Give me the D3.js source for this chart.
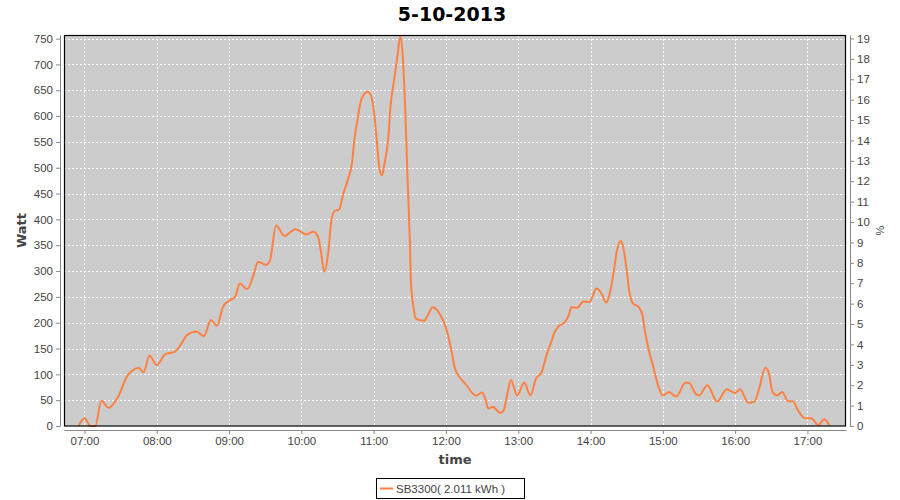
<!DOCTYPE html>
<html>
<head>
<meta charset="utf-8">
<script src="https://cdn.jsdelivr.net/npm/d3@7"></script>
<style>
  body { margin: 0; background: #fff; }
  text { font-family: "Liberation Sans", "DejaVu Sans", sans-serif; }
</style>
</head>
<body>
<script>
  // chart data
  const title = '5-10-2013';
  const seriesName = 'SB3300( 2.011 kWh )';
  const times = ['06:55','07:00','07:05','07:09','07:14','07:20','07:28','07:35','07:40','07:45','07:49','07:54',
    '08:00','08:07','08:15','08:20','08:25','08:33','08:39','08:45','08:50','08:55',
    '09:01','09:05','09:09','09:15','09:20','09:24','09:31','09:34','09:39','09:46','09:55',
    '10:04','10:10','10:14','10:16','10:19','10:22','10:25','10:28','10:31','10:35','10:39','10:42','10:44','10:47','10:50','10:55','10:58',
    '11:01','11:03','11:05','11:07','11:09','11:12','11:14','11:17','11:20','11:22','11:24','11:26','11:28','11:30','11:31','11:33','11:35','11:38','11:42','11:45','11:49','11:52','11:56','11:59',
    '12:02','12:05','12:07','12:10','12:14','12:18','12:21','12:25','12:30','12:33','12:35','12:39','12:45','12:48','12:51','12:54','12:59',
    '13:05','13:10','13:15','13:19','13:24','13:27','13:30','13:34','13:39','13:42','13:44','13:49','13:54','13:59',
    '14:05','14:09','14:13','14:16','14:19','14:22','14:25','14:27','14:30','14:32','14:35','14:40','14:43','14:45','14:48','14:52','14:56',
    '15:00','15:05','15:11','15:19','15:22','15:27','15:30','15:37','15:45','15:53',
    '16:00','16:04','16:11','16:16','16:20','16:25','16:28','16:31','16:35','16:39','16:44','16:48','16:52','16:58',
    '17:03','17:09','17:14','17:18'];
  const watts = [0,15,0,0,49,35,57,95,108,113,104,136,
    118,139,144,158,176,183,174,205,194,231,
    244,250,276,265,290,318,312,321,388,368,381,
    371,376,365,341,299,330,399,417,418,451,480,509,554,599,634,647,638,
    593,541,496,485,509,554,619,670,721,754,720,625,489,360,276,231,208,205,204,215,230,226,212,197,
    173,141,115,99,87,76,66,59,65,50,34,37,25,31,63,89,59,
    84,59,93,102,141,160,181,194,202,215,230,229,241,240,
    266,257,239,257,295,341,358,347,302,263,238,230,215,186,150,115,79,
    59,66,57,84,83,63,59,79,47,71,
    64,71,45,47,73,113,102,66,59,66,48,48,31,15,
    15,2,13,2];
  const hourTicks = ['07:00','08:00','09:00','10:00','11:00','12:00','13:00','14:00','15:00','16:00','17:00'];
  const wattTicks = [0,50,100,150,200,250,300,350,400,450,500,550,600,650,700,750];
  const pctTicks = d3.range(0, 20);

  const W = 900, H = 500;
  const margin = { top: 35, right: 54, bottom: 74, left: 64 };
  const pw = W - margin.left - margin.right;
  const ph = H - margin.top - margin.bottom;

  const parse = d3.timeParse('%H:%M');
  const data = times.map((t, i) => ({ t: parse(t), w: watts[i] }));

  const x = d3.scaleTime().domain([parse('06:43'), parse('17:32')]).range([0, pw]);
  const y = d3.scaleLinear().domain([0, 757]).range([ph, 0]);
  const y2 = d3.scaleLinear().domain([0, 19.17]).range([ph, 0]);

  const svg = d3.select('body').append('svg').attr('width', W).attr('height', H);

  svg.append('text').attr('x', W / 2 + 2).attr('y', 21).attr('text-anchor', 'middle')
    .style('font-family', '"DejaVu Sans", sans-serif')
    .style('font-size', '19px').style('font-weight', 'bold').attr('fill', '#000').text(title);

  const g = svg.append('g').attr('transform', `translate(${margin.left},${margin.top})`);

  g.append('rect').attr('width', pw).attr('height', ph).attr('fill', '#cccccc');

  // grid
  g.selectAll('.hg').data(wattTicks).enter().append('line')
    .attr('x1', 0).attr('x2', pw).attr('y1', d => Math.round(y(d)) + 0.5).attr('y2', d => Math.round(y(d)) + 0.5)
    .attr('stroke', '#fff').attr('stroke-dasharray', '2,2');
  g.selectAll('.vg').data(hourTicks).enter().append('line')
    .attr('y1', 0).attr('y2', ph).attr('x1', d => Math.round(x(parse(d))) + 0.5).attr('x2', d => Math.round(x(parse(d))) + 0.5)
    .attr('stroke', '#fff').attr('stroke-dasharray', '2,2');

  const line = d3.line().x(d => x(d.t)).y(d => y(d.w)).curve(d3.curveMonotoneX);
  g.append('path').datum(data).attr('d', line).attr('fill', 'none')
    .attr('stroke', '#ff8040').attr('stroke-width', 2);

  g.append('rect').attr('x', 0.5).attr('y', 0.5).attr('width', pw - 1).attr('height', ph - 0.5)
    .attr('fill', 'none').attr('stroke', '#000').attr('stroke-width', 1.2);

  function styleAxis(sel) {
    sel.selectAll('path.domain').attr('stroke', '#888');
    sel.selectAll('.tick line').attr('stroke', '#888');
    sel.selectAll('.tick text').attr('fill', '#444').style('font-size', '11.5px')
      .style('font-family', '"Liberation Sans", "DejaVu Sans", sans-serif');
  }

  g.append('g').attr('transform', 'translate(-4,0)')
    .call(d3.axisLeft(y).tickValues(wattTicks).tickSize(4).tickSizeOuter(0).tickPadding(3))
    .call(styleAxis);

  g.append('g').attr('transform', `translate(${pw + 4},0)`)
    .call(d3.axisRight(y2).tickValues(pctTicks).tickSize(4).tickSizeOuter(0).tickPadding(3))
    .call(styleAxis);

  g.append('g').attr('transform', `translate(0,${ph + 4})`)
    .call(d3.axisBottom(x).tickValues(hourTicks.map(parse)).tickFormat(d3.timeFormat('%H:%M'))
      .tickSize(4).tickSizeOuter(0).tickPadding(3))
    .call(styleAxis);

  const labelFont = '"DejaVu Sans", sans-serif';
  svg.append('text').attr('transform', `translate(26,${margin.top + ph / 2}) rotate(-90)`)
    .attr('text-anchor', 'middle').attr('fill', '#444').style('font-family', labelFont)
    .style('font-size', '13px').style('font-weight', 'bold').text('Watt');
  svg.append('text').attr('transform', `translate(884,${margin.top + ph / 2}) rotate(-90)`)
    .attr('text-anchor', 'middle').attr('fill', '#444').style('font-size', '11px').text('%');
  svg.append('text').attr('x', margin.left + pw / 2).attr('y', 464)
    .attr('text-anchor', 'middle').attr('fill', '#444').style('font-family', labelFont)
    .style('font-size', '13px').style('font-weight', 'bold').text('time');

  // legend
  const lg = svg.append('g').attr('transform', 'translate(376,478)');
  lg.append('rect').attr('x', 0.5).attr('y', 0.5).attr('width', 148).attr('height', 20)
    .attr('fill', '#fff').attr('stroke', '#000');
  lg.append('line').attr('x1', 4).attr('x2', 17).attr('y1', 10.5).attr('y2', 10.5)
    .attr('stroke', '#ff8040').attr('stroke-width', 2);
  lg.append('text').attr('x', 20).attr('y', 15).attr('fill', '#444').style('font-size', '11.5px').text(seriesName);
</script>
</body>
</html>
